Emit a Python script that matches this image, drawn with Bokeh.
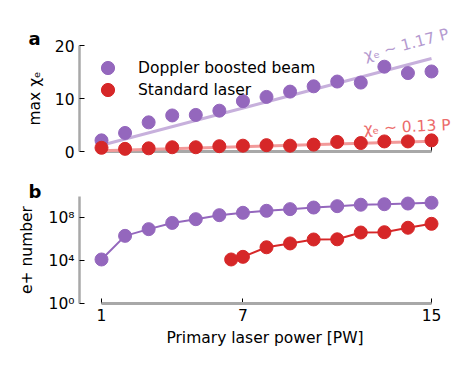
import math
from bokeh.plotting import figure
from bokeh.layouts import column
from bokeh.models import Range1d, FixedTicker, Legend, LegendItem
from bokeh.core.properties import value
from bokeh.embed import file_html
from bokeh.resources import INLINE

# ---------------- data ----------------
power = [1, 2, 3, 4, 5, 6, 7, 8, 9, 10, 11, 12, 13, 14, 15]
chi_doppler = [2.1, 3.5, 5.5, 6.8, 6.9, 7.7, 9.5, 10.3, 11.3, 12.3, 13.2, 13.0, 16.0, 14.8, 15.1]
chi_standard = [0.7, 0.5, 0.6, 0.8, 0.8, 1.0, 1.1, 1.2, 1.1, 1.3, 1.8, 1.6, 1.9, 1.9, 2.1]
fit_doppler = 1.17
fit_standard = 0.13

pos_doppler = [1.3e4, 2.1e6, 8.9e6, 3.4e7, 7.6e7, 1.8e8, 3.0e8, 4.6e8, 6.6e8, 9.3e8,
               1.25e9, 1.7e9, 1.9e9, 2.2e9, 2.6e9]
power_standard = [6.5, 7, 8, 9, 10, 11, 12, 13, 14, 15]
pos_standard = [1.3e4, 2.3e4, 1.8e5, 4.1e5, 9.6e5, 1.0e6, 4.3e6, 4.6e6, 1.2e7, 2.8e7]

x_ticks = [1, 7, 15]
chi_ticks = [0, 10, 20]
pos_ticks = [1, 1e4, 1e8]
pos_tick_labels = ["10\u2070", "10\u2074", "10\u2078"]

label_doppler = "Doppler boosted beam"
label_standard = "Standard laser"
fit_label_doppler = "\u03c7\u2091 ~ 1.17 P"
fit_label_standard = "\u03c7\u2091 ~ 0.13 P"
panel_labels = ["a", "b"]

# ---------------- style ----------------
PURPLE = "#9467bd"
RED = "#d62728"
PURPLE_LIGHT = "#c7b0dc"
RED_LIGHT = "#f29a9a"
PURPLE_TEXT = "#b49ad0"
RED_TEXT = "#ec6b6b"
SPINE = "#a8a8a8"
FONT = "DejaVu Sans"
FS = "15.5px"

W = 466
LEFT = 79
FRAME_W = 371
FRAME_HA = 106
FRAME_HB = 107
x_range = Range1d(0.0666, 15.806)
px_x = FRAME_W / (x_range.end - x_range.start)


def style(p):
    p.outline_line_color = None
    p.xgrid.grid_line_color = None
    p.ygrid.grid_line_color = None
    p.background_fill_color = "white"
    p.border_fill_color = "white"
    for ax in p.axis:
        ax.major_tick_in = 5
        ax.major_tick_out = 0
        ax.minor_tick_in = 0
        ax.minor_tick_out = 0
        ax.major_tick_line_color = "black"
        ax.major_tick_line_width = 1
        ax.major_label_text_font = FONT
        ax.major_label_text_font_size = FS
        ax.major_label_text_color = "black"
        ax.axis_label_text_font = FONT
        ax.axis_label_text_font_size = FS
        ax.axis_label_text_font_style = "normal"
        ax.axis_label_text_color = "black"
    p.yaxis.axis_line_color = SPINE
    p.yaxis.axis_line_width = 2.5
    p.xaxis.axis_line_color = None
    p.xaxis.ticker = FixedTicker(ticks=x_ticks)


def legend_for(renderer, label, bottom):
    return Legend(items=[LegendItem(label=label, renderers=[renderer])],
                  location=(12, bottom), padding=0, spacing=0, margin=0,
                  label_standoff=14, glyph_width=33, glyph_height=33,
                  border_line_color=None, background_fill_alpha=0,
                  label_text_font=FONT, label_text_font_size=FS, label_text_color="black",
                  level="overlay")


def text_kw(color, size=FS, style="normal"):
    return dict(text_font=value(FONT), text_font_size=value(size), text_color=color,
                text_font_style=style, level="overlay")


# ---------------- panel a ----------------
pa = figure(width=W, height=45 + FRAME_HA + 25, x_range=x_range, y_range=Range1d(0, 20),
            output_backend="svg", toolbar_location=None,
            min_border_left=LEFT, min_border_right=W - LEFT - FRAME_W,
            min_border_top=45, min_border_bottom=25)
style(pa)
pa.yaxis.ticker = FixedTicker(ticks=chi_ticks)
pa.yaxis.axis_label = "max \u03c7\u2091"
pa.yaxis.axis_label_standoff = 8
pa.xaxis.major_label_text_font_size = "0px"
pa.xaxis.major_label_overrides = {t: "" for t in x_ticks}

pa.segment(x0=[min(x_ticks)], y0=[chi_ticks[0]], x1=[max(x_ticks)], y1=[chi_ticks[0]],
           line_color=SPINE, line_width=3, level="annotation")
fx = [power[0], power[-1]]
pa.line(fx, [fit_doppler * v for v in fx], line_color=PURPLE_LIGHT, line_width=3, level="annotation")
pa.line(fx, [fit_standard * v for v in fx], line_color=RED_LIGHT, line_width=3, level="annotation")
ra1 = pa.scatter(power, chi_doppler, size=13, color=PURPLE, level="overlay")
ra2 = pa.scatter(power, chi_standard, size=13, color=RED, level="overlay")

pa.add_layout(legend_for(ra1, label_doppler, 67))
pa.add_layout(legend_for(ra2, label_standard, 45))

# angle of fit lines on screen
px_ya = FRAME_HA / 20.0
ang_d = math.atan(fit_doppler * px_ya / px_x)
ang_s = math.atan(fit_standard * px_ya / px_x) * 1.6

pa.text(x=[15.72], y=[22.2], text=[fit_label_doppler], angle=ang_d,
        text_align="right", text_baseline="alphabetic", **text_kw(PURPLE_TEXT))
pa.text(x=[15.81], y=[5.0], text=[fit_label_standard], angle=ang_s,
        text_align="right", text_baseline="alphabetic", **text_kw(RED_TEXT))
pa.text(x=[x_range.start - 51 / px_x], y=[113 / px_ya], text=[panel_labels[0]],
        text_align="left", text_baseline="alphabetic", **text_kw("black", "18px", "bold"))

# ---------------- panel b ----------------
pb = figure(width=W, height=20 + FRAME_HB + 58, x_range=x_range, y_range=Range1d(1, 1e10),
            y_axis_type="log", output_backend="svg", toolbar_location=None,
            min_border_left=LEFT, min_border_right=W - LEFT - FRAME_W,
            min_border_top=20, min_border_bottom=58)
style(pb)
pb.yaxis.ticker = FixedTicker(ticks=pos_ticks)
pb.yaxis.major_label_overrides = dict(zip(pos_ticks, pos_tick_labels))
pb.yaxis.axis_label = "e+ number"
pb.yaxis.axis_label_standoff = 10
pb.xaxis.axis_label = "Primary laser power [PW]"

pb.segment(x0=[min(x_ticks)], y0=[pos_ticks[0]], x1=[max(x_ticks)], y1=[pos_ticks[0]],
           line_color=SPINE, line_width=3, level="annotation")
pb.line(power, pos_doppler, line_color=PURPLE, line_width=2, level="overlay")
pb.scatter(power, pos_doppler, size=13, color=PURPLE, level="overlay")
pb.line(power_standard, pos_standard, line_color=RED, line_width=2, level="overlay")
pb.scatter(power_standard, pos_standard, size=13, color=RED, level="overlay")
decades_per_px = 10.0 / FRAME_HB
pb.text(x=[x_range.start - 51 / px_x], y=[10 ** (112 * decades_per_px)], text=[panel_labels[1]],
        text_align="left", text_baseline="alphabetic", **text_kw("black", "18px", "bold"))

layout = column(pa, pb, spacing=0)
open("out.html", "w").write(file_html(layout, INLINE))
